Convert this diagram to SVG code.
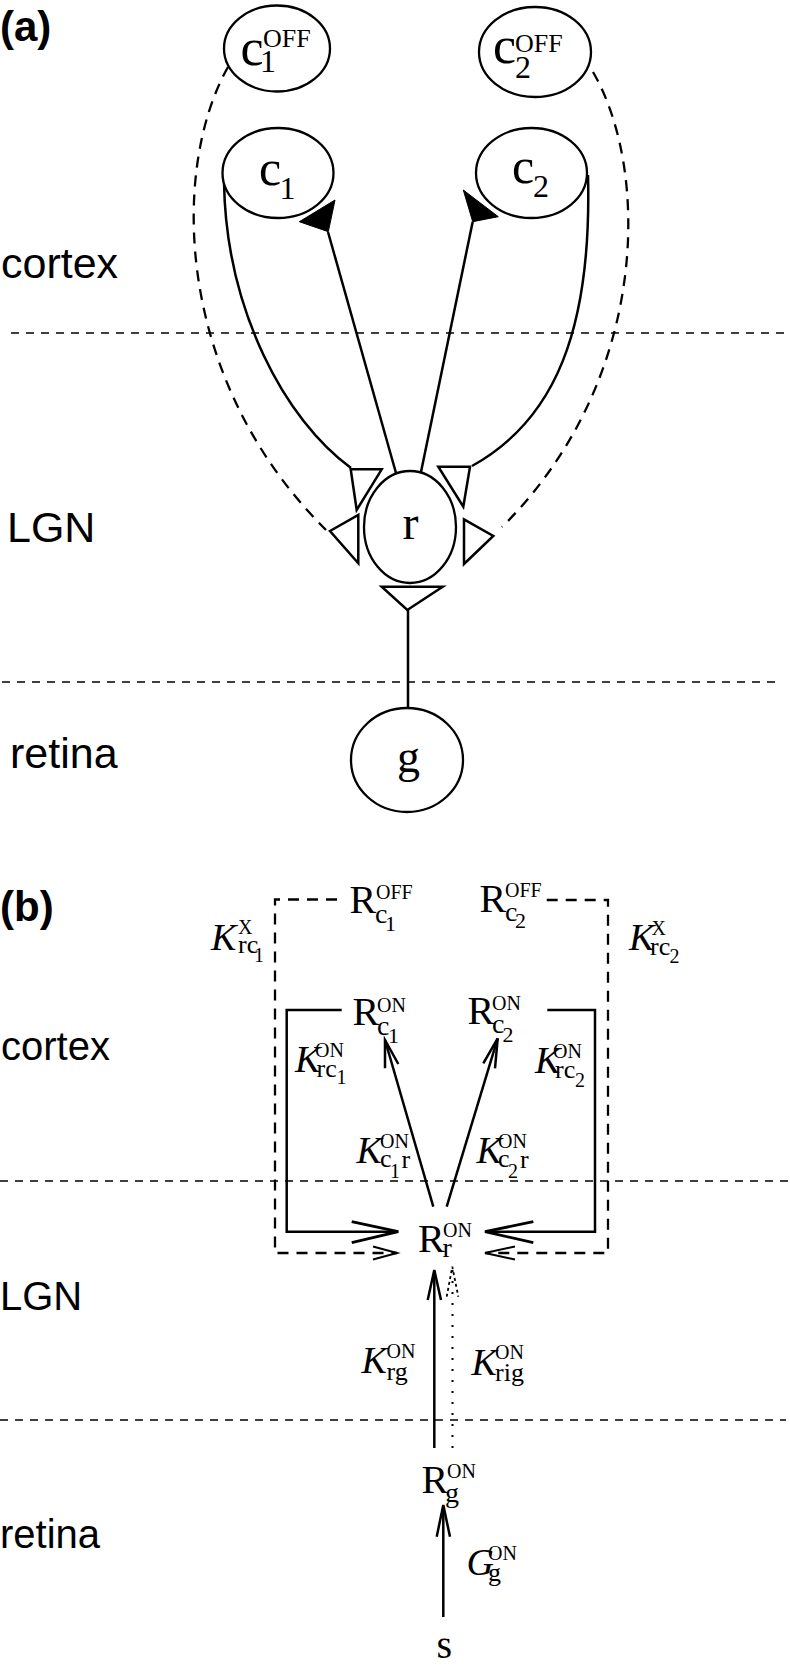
<svg xmlns="http://www.w3.org/2000/svg" width="790" height="1668" viewBox="0 0 790 1668">
<style>
.sans{font-family:"Liberation Sans",Arial,sans-serif;fill:#000}
.bold{font-family:"Liberation Sans",Arial,sans-serif;font-weight:bold;fill:#000}
.serif{font-family:"Liberation Serif","Times New Roman",serif;fill:#000}
.it{font-style:italic}
.node{fill:#fff;stroke:#000;stroke-width:2.3}
.syn{fill:#fff;stroke:#000;stroke-width:2.5;stroke-linejoin:miter}
.line{fill:none;stroke:#000;stroke-width:2.5}
.head{fill:none;stroke:#000;stroke-width:2.8}
.thinhead{fill:none;stroke:#000;stroke-width:2}
.dash{fill:none;stroke:#000;stroke-width:2.3;stroke-dasharray:11 8}
.layer{fill:none;stroke:#000;stroke-width:1.5;stroke-dasharray:8 7}
.dot{fill:none;stroke:#000;stroke-width:2;stroke-dasharray:2 9}
.dothead{fill:none;stroke:#000;stroke-width:1.8;stroke-dasharray:3 3}
.big{font-size:40px}
.sub{font-size:28px}
.ss{font-size:22px}
.sup{font-size:20px}
.ksub{font-size:26px}
</style>
<rect width="790" height="1668" fill="#fff"/>

<g id="layers">
<path class="layer" d="M11,333 H790"/>
<path class="layer" d="M2,682 H778"/>
<path class="layer" d="M0,1181 H790"/>
<path class="layer" d="M0,1420 H786"/>
</g>

<g id="layer-labels">
<text class="bold" x="0" y="41" font-size="42">(a)</text>
<text class="sans" x="1" y="278" font-size="43">cortex</text>
<text class="sans" x="7" y="542" font-size="43">LGN</text>
<text class="sans" x="10" y="768" font-size="43">retina</text>
<text class="bold" x="0" y="921" font-size="42">(b)</text>
<text class="sans" x="1" y="1060" font-size="40">cortex</text>
<text class="sans" x="0" y="1310" font-size="40">LGN</text>
<text class="sans" x="0" y="1548" font-size="40">retina</text>
</g>

<g id="connectors">
<path class="line" d="M224,182 C226,310 285,420 351,468"/>
<path class="line" d="M588,175 C592,330 555,420 472,466"/>
<path class="dash" d="M228,67 C170,170 175,380 326,530"/>
<path class="dash" d="M593,72 C650,170 650,380 502,527"/>
<path class="line" d="M396,473 L328,232"/>
<polygon points="299.3,221.7 335,200 328.3,231.7" fill="#000" stroke="#000" stroke-width="1"/>
<path class="line" d="M421,472 L472.7,221.7"/>
<polygon points="463.3,190 498.3,216.7 472.7,221.7" fill="#000" stroke="#000" stroke-width="1"/>
<path class="line" d="M408,610 V708"/>
<polygon class="syn" points="350.7,469.3 381.7,469.3 356.7,510"/>
<polygon class="syn" points="330,531 358.3,515 358.3,563.3"/>
<polygon class="syn" points="438.3,466.7 470,466.7 463.3,506.7"/>
<polygon class="syn" points="464,519.3 493.3,536 464,564"/>
<polygon class="syn" points="381.7,586.7 442.7,586.7 407.3,610"/>

<path class="dash" d="M337,899.5 H275 V1253 H397"/>
<path class="thinhead" d="M373,1246.5 L397,1253 L373,1259.5"/>
<path class="dash" d="M546.7,900 H608 V1253 H485"/>
<path class="thinhead" d="M515,1246.5 L485,1253 L515,1259.5"/>
<path class="line" d="M341.7,1010 H286.7 V1231.7 H397"/>
<path class="head" d="M351.7,1221.7 L398.3,1231.7 L351.7,1242.7"/>
<path class="line" d="M547.3,1010 H595 V1231.7 H486"/>
<path class="head" d="M533.3,1221.7 L485,1231.7 L533.3,1242.7"/>
<path class="line" d="M433.3,1206.7 L385,1040"/>
<path class="line" d="M385,1068.3 L385,1040 L398.3,1064"/>
<path class="line" d="M446.7,1206.7 L497.7,1038.3"/>
<path class="line" d="M483.3,1063.3 L497.7,1038.3 L495,1068.3"/>
<path class="line" d="M434.3,1448 V1271"/>
<path class="line" d="M427.7,1300 L434.3,1270 L441,1300"/>
<path class="dot" d="M452.5,1448 V1268"/>
<path class="dothead" d="M446.7,1296.7 L452.3,1266.7 L458.3,1296.7"/>
<path class="line" d="M443.3,1617 V1506"/>
<path class="line" d="M436.7,1536.7 L443.3,1505 L450,1536.7"/>
</g>

<g id="node-c1off">
<ellipse class="node" cx="277" cy="48.5" rx="53" ry="43"/>
<text class="serif"><tspan x="240.5" y="65" font-size="52">c</tspan><tspan x="263" y="47" font-size="26">OFF</tspan><tspan x="260" y="72" font-size="32">1</tspan></text>
</g>
<g id="node-c2off">
<ellipse class="node" cx="535" cy="52" rx="56" ry="45"/>
<text class="serif"><tspan x="493" y="63" font-size="52">c</tspan><tspan x="515" y="52" font-size="26">OFF</tspan><tspan x="515" y="78" font-size="32">2</tspan></text>
</g>
<g id="node-c1">
<ellipse class="node" cx="278" cy="173" rx="55.5" ry="45"/>
<text class="serif"><tspan x="259" y="185" font-size="50">c</tspan><tspan x="279.5" y="199" font-size="32">1</tspan></text>
</g>
<g id="node-c2">
<ellipse class="node" cx="531.5" cy="173" rx="55.5" ry="45"/>
<text class="serif"><tspan x="512" y="183" font-size="50">c</tspan><tspan x="533" y="197" font-size="32">2</tspan></text>
</g>
<g id="node-r">
<ellipse class="node" cx="410" cy="527" rx="46" ry="56"/>
<text class="serif" x="402.5" y="539" font-size="48">r</text>
</g>
<g id="node-g">
<ellipse class="node" cx="407" cy="760" rx="56" ry="52"/>
<text class="serif" x="397" y="772" font-size="46">g</text>
</g>

<g id="node-Rc1off">
<text class="serif"><tspan class="big" x="349.5" y="913">R</tspan><tspan class="sup" x="376" y="899">OFF</tspan><tspan class="sub" x="375" y="923">c</tspan><tspan class="ss" x="385" y="931">1</tspan></text>
</g>
<g id="node-Rc2off">
<text class="serif"><tspan class="big" x="479.5" y="911.5">R</tspan><tspan class="sup" x="505" y="896.5">OFF</tspan><tspan class="sub" x="505" y="921">c</tspan><tspan class="ss" x="515" y="928">2</tspan></text>
</g>
<g id="node-Rc1on">
<text class="serif"><tspan class="big" x="352.5" y="1025">R</tspan><tspan class="sup" x="377" y="1011.5">ON</tspan><tspan class="sub" x="377" y="1035">c</tspan><tspan class="ss" x="388" y="1043">1</tspan></text>
</g>
<g id="node-Rc2on">
<text class="serif"><tspan class="big" x="467.5" y="1024">R</tspan><tspan class="sup" x="492" y="1010">ON</tspan><tspan class="sub" x="492" y="1033">c</tspan><tspan class="ss" x="502.5" y="1041.5">2</tspan></text>
</g>
<g id="node-Rr">
<text class="serif"><tspan class="big" x="418" y="1251.5">R</tspan><tspan class="sup" x="443" y="1236.5">ON</tspan><tspan class="sub" x="442.5" y="1257">r</tspan></text>
</g>
<g id="node-Rg">
<text class="serif"><tspan class="big" x="421.5" y="1493">R</tspan><tspan class="sup" x="447" y="1478">ON</tspan><tspan class="sub" x="445" y="1502">g</tspan></text>
</g>
<g id="node-s">
<text class="serif" x="436.5" y="1658" font-size="40">s</text>
</g>

<g id="connector-labels">
<text class="serif"><tspan class="it" font-size="38" x="211" y="950">K</tspan><tspan class="sup" x="238" y="934">X</tspan><tspan class="ksub" x="238" y="953">rc</tspan><tspan class="sup" x="254" y="961.5">1</tspan></text>
<text class="serif"><tspan class="it" font-size="38" x="629" y="950">K</tspan><tspan class="sup" x="651.5" y="935">X</tspan><tspan class="ksub" x="650" y="955">rc</tspan><tspan class="sup" x="669.5" y="963">2</tspan></text>
<text class="serif"><tspan class="it" font-size="38" x="295" y="1071.5">K</tspan><tspan class="sup" x="315" y="1056.5">ON</tspan><tspan class="ksub" x="316.5" y="1076.5">rc</tspan><tspan class="sup" x="336.5" y="1084">1</tspan></text>
<text class="serif"><tspan class="it" font-size="38" x="535" y="1073">K</tspan><tspan class="sup" x="553" y="1058">ON</tspan><tspan class="ksub" x="555" y="1078">rc</tspan><tspan class="sup" x="575" y="1086.5">2</tspan></text>
<text class="serif"><tspan class="it" font-size="38" x="356.5" y="1163">K</tspan><tspan class="sup" x="380" y="1148">ON</tspan><tspan class="ksub" x="380" y="1166.5">c</tspan><tspan class="sup" x="390" y="1178">1</tspan><tspan class="ksub" x="401.5" y="1168">r</tspan></text>
<text class="serif"><tspan class="it" font-size="38" x="476.5" y="1163">K</tspan><tspan class="sup" x="498" y="1148">ON</tspan><tspan class="ksub" x="498" y="1166.5">c</tspan><tspan class="sup" x="508" y="1178">2</tspan><tspan class="ksub" x="520" y="1168">r</tspan></text>
<text class="serif"><tspan class="it" font-size="38" x="361.5" y="1373">K</tspan><tspan class="sup" x="386.5" y="1358">ON</tspan><tspan class="ksub" x="386.5" y="1380">rg</tspan></text>
<text class="serif"><tspan class="it" font-size="38" x="471.5" y="1375">K</tspan><tspan class="sup" x="495" y="1359">ON</tspan><tspan class="ksub" x="495" y="1381">rig</tspan></text>
<text class="serif"><tspan class="it" font-size="38" x="466.5" y="1575">G</tspan><tspan class="sup" x="488" y="1560">ON</tspan><tspan class="ksub" x="488" y="1581">g</tspan></text>
</g>
</svg>
